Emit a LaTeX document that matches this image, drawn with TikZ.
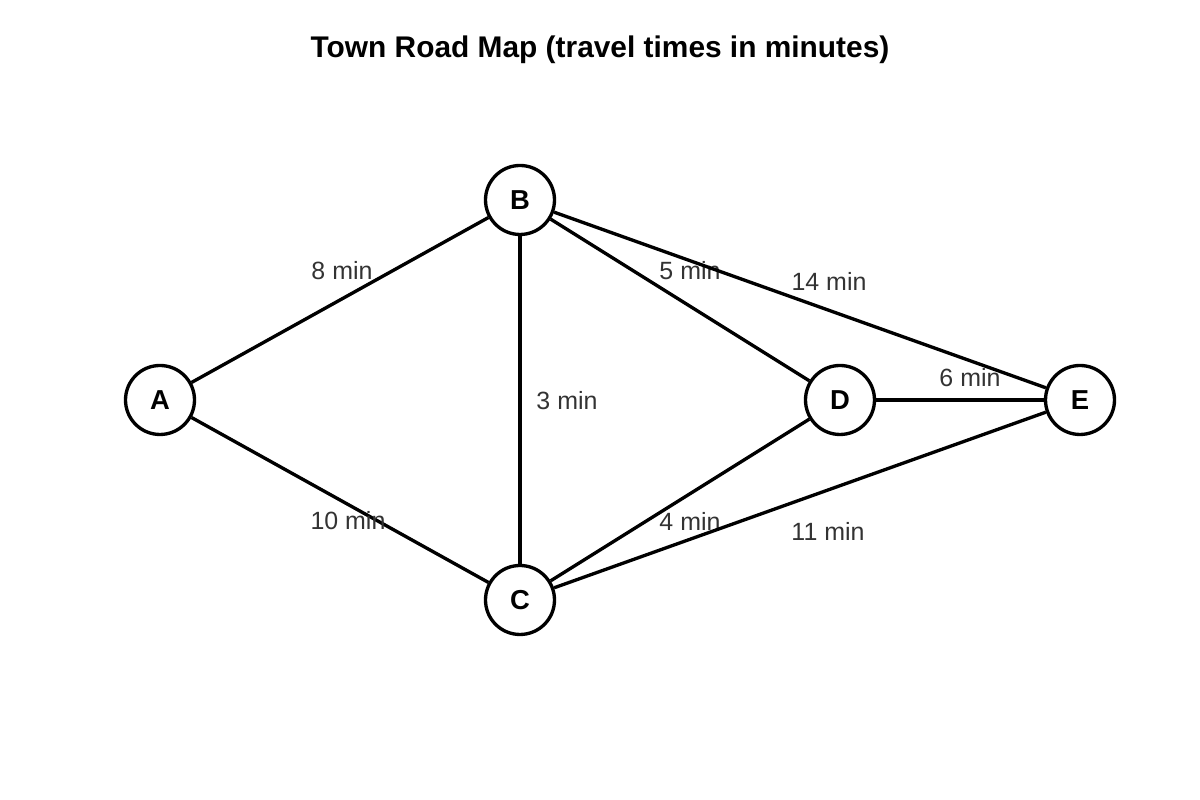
\documentclass[tikz,border=0pt]{standalone}
\usepackage{fontspec}
\setmainfont{Liberation Sans}
\usepackage{xcolor}
\usetikzlibrary{math}

\definecolor{labelgray}{HTML}{333333}

\tikzset{
town/.style={draw, circle, line width=0.95pt, minimum size=0.69cm, inner sep=0pt, font=\fontsize{7.8}{9}\selectfont\bfseries},
road/.style={line width=0.95pt},
roadlabel/.style={inner sep=0pt, text=labelgray, font=\fontsize{7.1}{8.5}\selectfont}
}

\begin{document}
\begin{tikzpicture}

\tikzmath{
\picw = 12;
\pich = 8;
\rowy = 4;
}

\useasboundingbox (0,0) rectangle (\picw,\pich);

\node[font=\fontsize{8.5}{10}\selectfont\bfseries] (title) at (\picw/2, 7.5) {Town Road Map (travel times in minutes)};

% the towns
\node[town] (A) at (1.6, \rowy) {A};
\node[town] (B) at (5.2, \rowy + 2) {B};
\node[town] (C) at (5.2, \rowy - 2) {C};
\node[town] (D) at (8.4, \rowy) {D};
\node[town] (E) at (10.8, \rowy) {E};

% roads and their times
\foreach \u/\v/\t/\lx/\ly in {A/B/8/3.42/5.29, A/C/10/3.48/2.79, B/C/3/5.67/3.99, B/D/5/6.90/5.29,
                              B/E/14/8.29/5.19, D/E/6/9.70/4.22, C/D/4/6.90/2.79, C/E/11/8.28/2.69}
{
   \draw[road] (\u) -- (\v);
   \node[roadlabel] (t\u\v) at (\lx, \ly) {\t\ min};
}

\end{tikzpicture}
\end{document}
